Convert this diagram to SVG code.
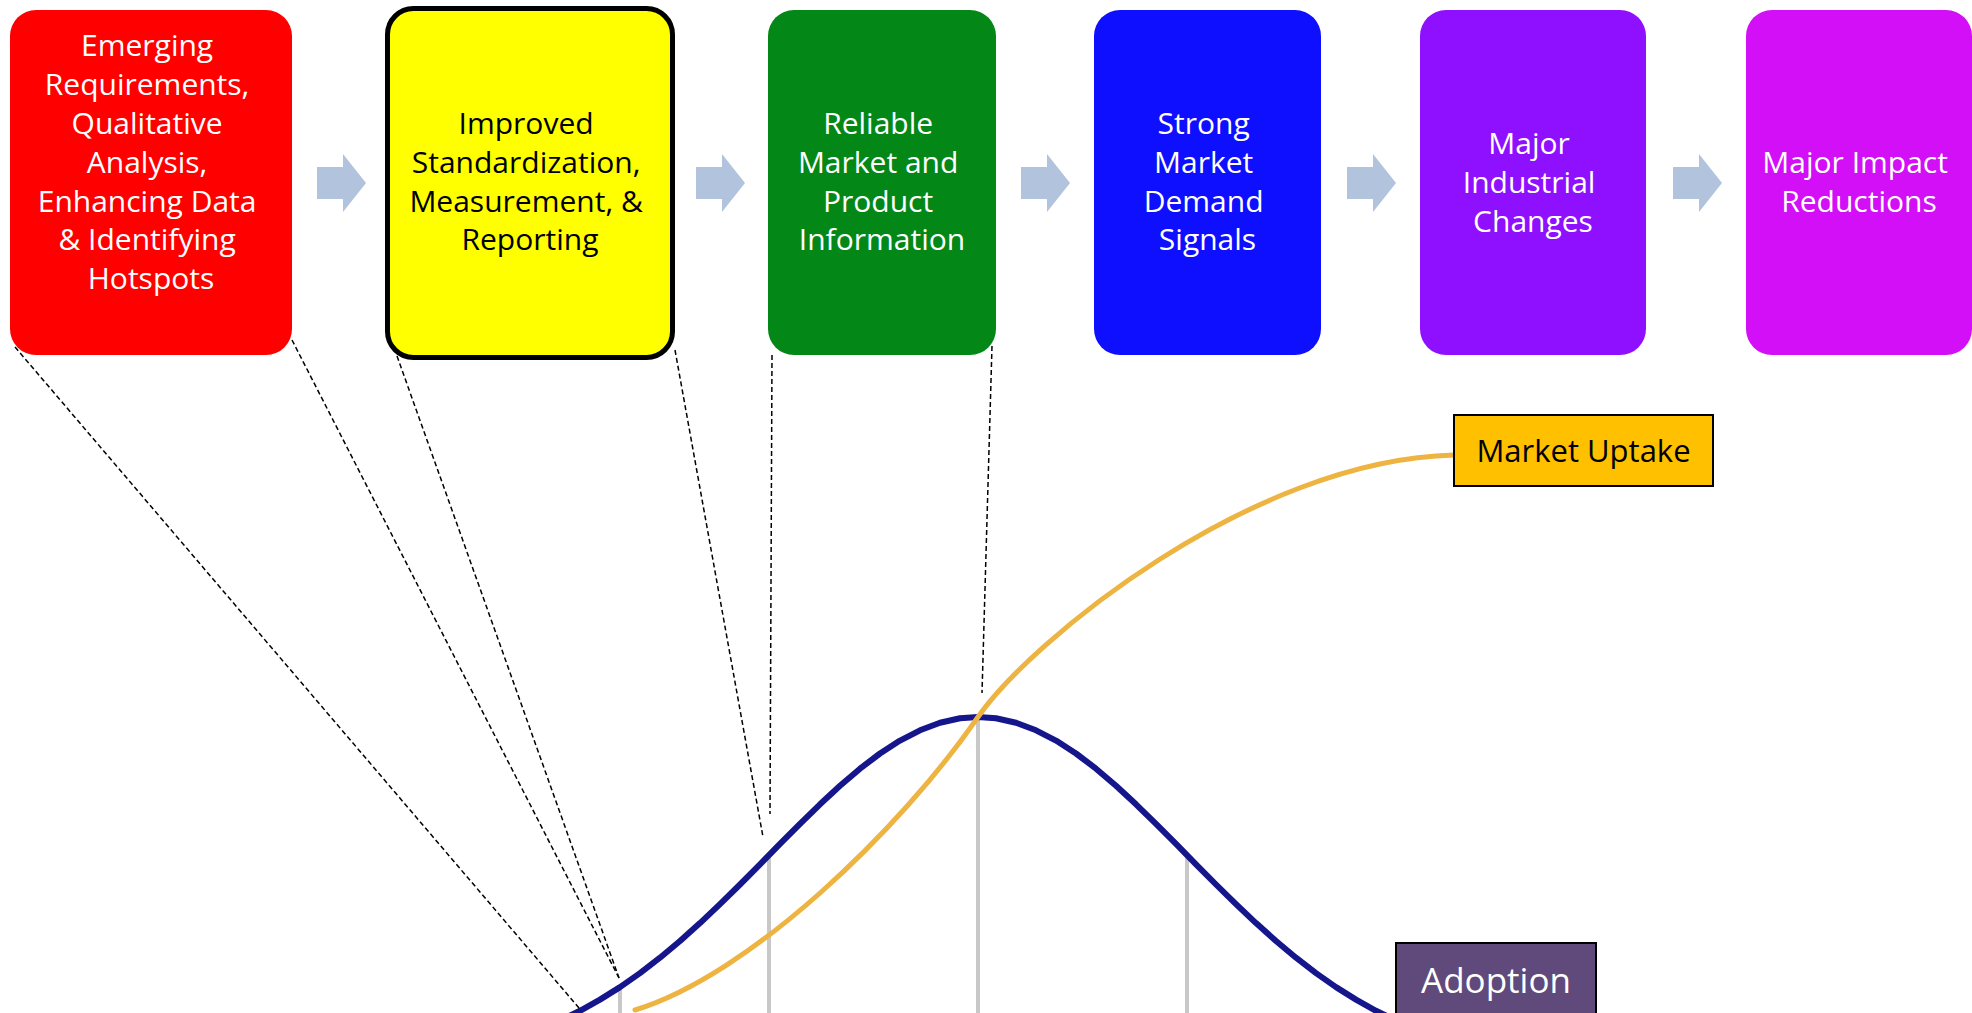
<svg xmlns="http://www.w3.org/2000/svg" xmlns:xlink="http://www.w3.org/1999/xlink" width="1972" height="1013" viewBox="0 0 1972 1013">
  <style>
    .box { stroke: none; }
    .lbl { font-family: "Open Sans", "Liberation Sans", sans-serif; font-size: 30px; text-anchor: middle; fill: #FFFFFF; }
    .dark { fill: #000000; }
    .dash { fill: none; stroke: #000000; stroke-width: 1.5; stroke-dasharray: 5 3; }
    .grid { stroke: #C8C8C8; stroke-width: 4; }
    .arrow { fill: #B1C3DD; }
  </style>
  <defs>
    <path id="chev" d="M0 13 H26 V0 L49 29 L26 58 V45 H0 Z"/>
    <filter id="soft" x="-5%" y="-5%" width="110%" height="110%">
      <feGaussianBlur stdDeviation="0.7"/>
    </filter>
  </defs>
  <rect width="1972" height="1013" fill="#FFFFFF"/>

  <g id="box1">
    <rect class="box" x="10" y="10" width="282" height="345" rx="26" fill="#FF0000"/>
    <text class="lbl" x="151">
      <tspan x="151" y="56">Emerging</tspan>
      <tspan x="151" y="95">Requirements,</tspan>
      <tspan x="151" y="134">Qualitative</tspan>
      <tspan x="151" y="173">Analysis,</tspan>
      <tspan x="151" y="212">Enhancing Data</tspan>
      <tspan x="151" y="250">&amp; Identifying</tspan>
      <tspan x="151" y="289">Hotspots</tspan>
    </text>
  </g>

  <g id="box2">
    <rect x="387.5" y="8.5" width="285" height="349" rx="26" fill="#FFFF00" stroke="#000000" stroke-width="5"/>
    <text class="lbl dark" x="530">
      <tspan x="530" y="134">Improved</tspan>
      <tspan x="530" y="173">Standardization,</tspan>
      <tspan x="530" y="212">Measurement, &amp;</tspan>
      <tspan x="530" y="250">Reporting</tspan>
    </text>
  </g>

  <g id="box3">
    <rect class="box" x="768" y="10" width="228" height="345" rx="26" fill="#038817"/>
    <text class="lbl" x="882">
      <tspan x="882" y="134">Reliable</tspan>
      <tspan x="882" y="173">Market and</tspan>
      <tspan x="882" y="212">Product</tspan>
      <tspan x="882" y="250">Information</tspan>
    </text>
  </g>

  <g id="box4">
    <rect class="box" x="1094" y="10" width="227" height="345" rx="26" fill="#0F0FFF"/>
    <text class="lbl" x="1207.5">
      <tspan x="1207.5" y="134">Strong</tspan>
      <tspan x="1207.5" y="173">Market</tspan>
      <tspan x="1207.5" y="212">Demand</tspan>
      <tspan x="1207.5" y="250">Signals</tspan>
    </text>
  </g>

  <g id="box5">
    <rect class="box" x="1420" y="10" width="226" height="345" rx="26" fill="#8E10FF"/>
    <text class="lbl" x="1533">
      <tspan x="1533" y="154">Major</tspan>
      <tspan x="1533" y="193">Industrial</tspan>
      <tspan x="1533" y="232">Changes</tspan>
    </text>
  </g>

  <g id="box6">
    <rect class="box" x="1746" y="10" width="226" height="345" rx="26" fill="#D20FF7"/>
    <text class="lbl" x="1859">
      <tspan x="1859" y="173">Major Impact</tspan>
      <tspan x="1859" y="212">Reductions</tspan>
    </text>
  </g>

  <g id="chart" filter="url(#soft)">
    <line class="grid" x1="620" y1="988" x2="620" y2="1013"/>
    <line class="grid" x1="769" y1="858" x2="769" y2="1013"/>
    <line class="grid" x1="978" y1="720" x2="978" y2="1013"/>
    <line class="grid" x1="1187" y1="858" x2="1187" y2="1013"/>
    <polyline id="adoption-curve" fill="none" stroke="#14148C" stroke-width="6" stroke-linejoin="round"
      points="560,1020.5 580,1010.8 600,999.6 620,987.1 640,973.1 660,957.7 680,941 700,923.1 720,904.1 740,884.5 760,864.3 780,843.9 800,823.8 820,804.3 840,785.8 860,768.7 880,753.5 900,740.6 920,730.3 940,722.7 960,718.3 978,717 996,718.3 1016,722.7 1036,730.3 1056,740.6 1076,753.5 1096,768.7 1116,785.8 1136,804.3 1156,823.8 1176,843.9 1196,864.3 1216,884.5 1236,904.1 1256,923.1 1276,941 1296,957.7 1316,973.1 1336,987.1 1356,999.6 1376,1010.8 1396,1020.5"/>
    <path id="uptake-curve" fill="none" stroke="#EDB443" stroke-width="5" stroke-linecap="round"
      d="M635 1010 C750 975 900 830 978 717 C1030 642 1250 460 1454 455"/>
  </g>

  <g id="label-uptake">
    <rect x="1454" y="415" width="259" height="71" fill="#FFC000" stroke="#000000" stroke-width="2"/>
    <text class="lbl dark" x="1583.5" y="462" style="font-size:31px">Market Uptake</text>
  </g>

  <g id="label-adoption">
    <rect x="1396" y="943" width="200" height="75" fill="#604A7B" stroke="#000000" stroke-width="2"/>
    <text class="lbl" x="1496" y="993" style="font-size:35px">Adoption</text>
  </g>

  <g id="connectors">
    <use xlink:href="#chev" class="arrow" x="317" y="154"/>
    <use xlink:href="#chev" class="arrow" x="696" y="154"/>
    <use xlink:href="#chev" class="arrow" x="1021" y="154"/>
    <use xlink:href="#chev" class="arrow" x="1347" y="154"/>
    <use xlink:href="#chev" class="arrow" x="1673" y="154"/>
    <line class="dash" x1="15" y1="347" x2="579" y2="1008"/>
    <line class="dash" x1="292" y1="340" x2="619" y2="978"/>
    <line class="dash" x1="397" y1="356" x2="619" y2="978"/>
    <line class="dash" x1="675" y1="350" x2="763" y2="837"/>
    <line class="dash" x1="772" y1="355" x2="770" y2="814"/>
    <line class="dash" x1="992" y1="346" x2="982" y2="693"/>
  </g>
</svg>
